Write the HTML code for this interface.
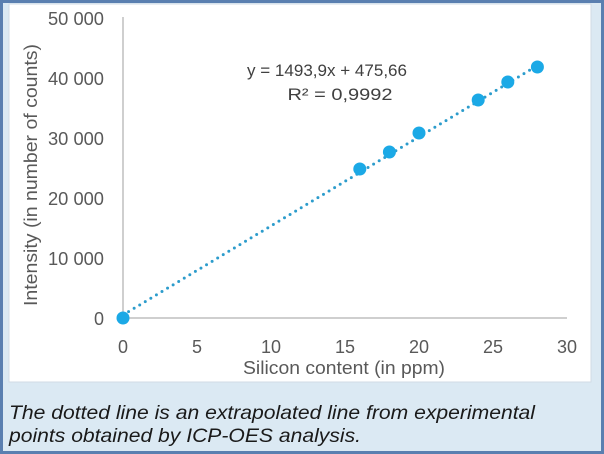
<!DOCTYPE html>
<html><head><meta charset="utf-8"><style>
body{margin:0;width:604px;height:454px;overflow:hidden;background:#dbe9f3;}
svg{display:block}
</style></head><body>
<svg width="604" height="454" viewBox="0 0 604 454" xmlns="http://www.w3.org/2000/svg" font-family="Liberation Sans, sans-serif">
<rect x="0" y="0" width="604" height="454" fill="#dbe9f3"/>
<rect x="1.5" y="1.5" width="601" height="451" fill="none" stroke="#5a7fb0" stroke-width="3"/>
<rect x="9" y="4" width="582" height="378" fill="#ffffff" stroke="#d0dbe5" stroke-width="1"/>
<line x1="123" y1="17" x2="123" y2="318" stroke="#bfbfbf" stroke-width="1.5"/>
<line x1="123" y1="318" x2="567" y2="318" stroke="#bfbfbf" stroke-width="1.5"/>
<g font-size="18" fill="#595959" text-anchor="end">
<text x="104" y="25" textLength="56" lengthAdjust="spacingAndGlyphs">50 000</text>
<text x="104" y="85" textLength="56" lengthAdjust="spacingAndGlyphs">40 000</text>
<text x="104" y="145" textLength="56" lengthAdjust="spacingAndGlyphs">30 000</text>
<text x="104" y="205" textLength="56" lengthAdjust="spacingAndGlyphs">20 000</text>
<text x="104" y="265" textLength="56" lengthAdjust="spacingAndGlyphs">10 000</text>
<text x="104" y="325">0</text>
</g>
<g font-size="18" fill="#595959" text-anchor="middle">
<text x="123" y="353">0</text>
<text x="197" y="353">5</text>
<text x="271" y="353">10</text>
<text x="345" y="353">15</text>
<text x="419" y="353">20</text>
<text x="493" y="353">25</text>
<text x="567" y="353">30</text>
<text x="344" y="374" textLength="202" lengthAdjust="spacingAndGlyphs">Silicon content (in ppm)</text>
<text transform="translate(37,175) rotate(-90)" textLength="262" lengthAdjust="spacingAndGlyphs">Intensity (in number of counts)</text>
</g>
<g font-size="17" fill="#404040" text-anchor="middle">
<text x="327" y="76" textLength="160" lengthAdjust="spacingAndGlyphs">y = 1493,9x + 475,66</text>
<text x="340" y="100" textLength="105" lengthAdjust="spacingAndGlyphs">R² = 0,9992</text>
</g>
<line x1="123" y1="315" x2="540" y2="64" stroke="#2c9ccc" stroke-width="3" stroke-linecap="round" stroke-dasharray="0,6.5"/>
<g fill="#1ba9e6">
<circle cx="123" cy="318" r="6.5"/>
<circle cx="359.8" cy="169" r="6.5"/>
<circle cx="389.4" cy="152" r="6.5"/>
<circle cx="419" cy="133" r="6.5"/>
<circle cx="478.2" cy="100" r="6.5"/>
<circle cx="507.8" cy="82" r="6.5"/>
<circle cx="537.4" cy="67" r="6.5"/>
</g>
<g font-size="19" font-style="italic" fill="#1a1a1a">
<text x="9" y="419" textLength="526" lengthAdjust="spacingAndGlyphs">The dotted line is an extrapolated line from experimental</text>
<text x="9" y="442" textLength="352" lengthAdjust="spacingAndGlyphs">points obtained by ICP-OES analysis.</text>
</g>
</svg>
</body></html>
